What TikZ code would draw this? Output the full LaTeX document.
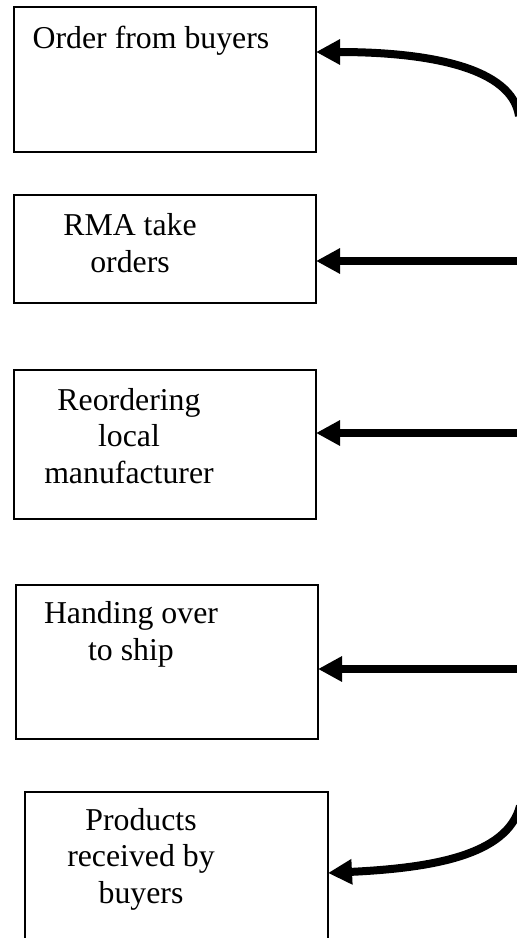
\documentclass[tikz,border=0pt]{standalone}
\usepackage{fontspec}
\setmainfont{Liberation Serif}
\usetikzlibrary{arrows.meta}
\begin{document}
\begin{tikzpicture}[x=1pt,y=-1pt,
  stagebox/.style={draw=black,line width=1.5pt,fill=none,anchor=north west,inner sep=0pt,outer sep=0pt},
  stagetext/.style={align=center,anchor=base,inner sep=0pt,font=\fontsize{31.8pt}{36.5pt}\selectfont},
  flow/.style={line width=8pt,-{Triangle[length=24pt,width=24pt]}}]
\clip (0,0) rectangle (517,938);
\fill[white] (0,0) rectangle (517,938);
% boxes
\node[stagebox,minimum width=302pt,minimum height=145pt] (b1) at (14,7) {};
\node[stagebox,minimum width=302pt,minimum height=108pt] (b2) at (14,195) {};
\node[stagebox,minimum width=302pt,minimum height=149pt] (b3) at (14,370) {};
\node[stagebox,minimum width=302pt,minimum height=154pt] (b4) at (16,585) {};
\node[stagebox,minimum width=303pt,minimum height=170pt] (b5) at (25,792) {};
% texts (anchor = baseline of last line)
\node[stagetext] (t1) at (151,48) {Order from buyers};
\node[stagetext] (t2) at (130,272) {RMA take\\orders};
\node[stagetext] (t3) at (129,483) {Reordering\\local\\manufacturer};
\node[stagetext] (t4) at (131,660) {Handing over\\to ship};
\node[stagetext] (t5) at (141,903) {Products\\received by\\buyers};
% arrow sources off the right edge
\coordinate (s1) at (519,116);
\coordinate (s2) at (530,261);
\coordinate (s3) at (530,433);
\coordinate (s4) at (530,669);
\coordinate (s5) at (520,806);
% arrows
\draw[flow] (s1) .. controls (512,68) and (430,52) .. ([yshift=-45pt]b1.north east);
\draw[flow] (s2) -- ([yshift=-66pt]b2.north east);
\draw[flow] (s3) -- ([yshift=-63pt]b3.north east);
\draw[flow] (s4) -- ([yshift=-84pt]b4.north east);
\draw[flow] (s5) .. controls (507,856) and (430,868) .. ([yshift=-81pt]b5.north east);
\end{tikzpicture}
\end{document}
